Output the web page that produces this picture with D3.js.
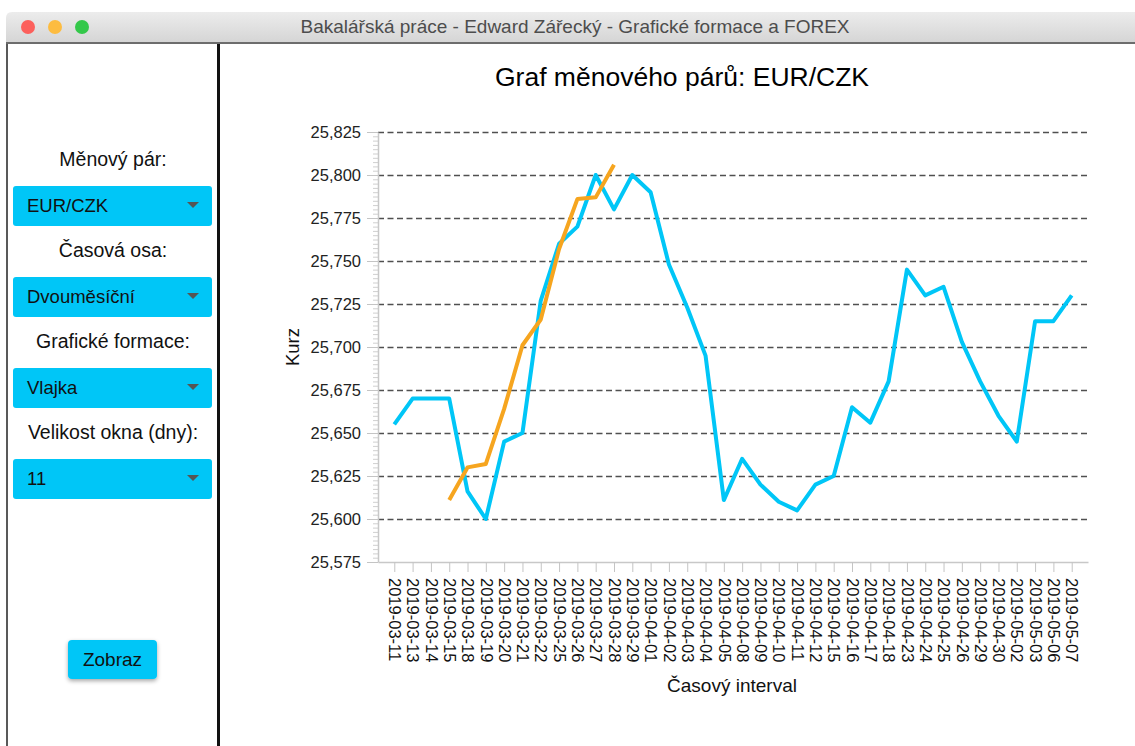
<!DOCTYPE html>
<html>
<head>
<meta charset="utf-8">
<script src="https://cdn.jsdelivr.net/npm/d3@7"></script>
<style>
body { margin: 0; background: #fff; overflow: hidden; }
text { font-family: "Liberation Sans", Arial, sans-serif; }
</style>
</head>
<body>
<svg id="misvg"></svg>
<script>
// data
const dates = ["2019-03-11","2019-03-13","2019-03-14","2019-03-15","2019-03-18","2019-03-19","2019-03-20",
  "2019-03-21","2019-03-22","2019-03-25","2019-03-26","2019-03-27","2019-03-28","2019-03-29",
  "2019-04-01","2019-04-02","2019-04-03","2019-04-04","2019-04-05","2019-04-08","2019-04-09",
  "2019-04-10","2019-04-11","2019-04-12","2019-04-15","2019-04-16","2019-04-17","2019-04-18",
  "2019-04-23","2019-04-24","2019-04-25","2019-04-26","2019-04-29","2019-04-30","2019-05-02",
  "2019-05-03","2019-05-06","2019-05-07"];
const kurz = [25.655, 25.670, 25.670, 25.670, 25.616, 25.600, 25.645, 25.650, 25.727, 25.760,
  25.770, 25.800, 25.780, 25.800, 25.790, 25.748, 25.723, 25.695, 25.611, 25.635,
  25.620, 25.610, 25.605, 25.620, 25.625, 25.665, 25.656, 25.680, 25.745, 25.730,
  25.735, 25.703, 25.680, 25.660, 25.645, 25.715, 25.715, 25.730];
const formaceDates = ["2019-03-15","2019-03-18","2019-03-19","2019-03-20","2019-03-21",
  "2019-03-22","2019-03-25","2019-03-26","2019-03-27","2019-03-28"];
const formace = [25.611, 25.630, 25.632, 25.664, 25.701, 25.716, 25.757, 25.786, 25.787, 25.806];
const yTicks = [25.575, 25.600, 25.625, 25.650, 25.675, 25.700, 25.725, 25.750, 25.775, 25.800, 25.825];
const panelLabels = ["Měnový pár:", "Časová osa:", "Grafické formace:", "Velikost okna (dny):"];
const panelValues = ["EUR/CZK", "Dvouměsíční", "Vlajka", "11"];

const blue = "#00c6f7";
const orange = "#f6a51f";

const svg = d3.select("#misvg")
  .attr("width", 1135)
  .attr("height", 746);

const defs = svg.append("defs");
const grad = defs.append("linearGradient").attr("id", "titlebar").attr("x1", 0).attr("y1", 0).attr("x2", 0).attr("y2", 1);
grad.append("stop").attr("offset", "0%").attr("stop-color", "#ececec");
grad.append("stop").attr("offset", "100%").attr("stop-color", "#d4d4d4");
const shadow = defs.append("filter").attr("id", "shadow").attr("x", "-20%").attr("y", "-20%").attr("width", "140%").attr("height", "160%");
shadow.append("feDropShadow").attr("dx", 0).attr("dy", 2).attr("stdDeviation", 2).attr("flood-color", "#000").attr("flood-opacity", 0.35);

// window title bar
svg.append("path")
  .attr("d", "M6,44 V18 Q6,12 12,12 H1135 V44 Z")
  .attr("fill", "url(#titlebar)");
svg.append("line").attr("x1", 6).attr("x2", 1135).attr("y1", 43).attr("y2", 43)
  .attr("stroke", "#4a4a4a").attr("stroke-width", 1.5);
svg.selectAll(".light")
  .data(["#fc605c", "#fdbc40", "#34c84a"])
  .enter().append("circle")
  .attr("cx", (d, i) => 28 + i * 27)
  .attr("cy", 27)
  .attr("r", 7)
  .attr("fill", d => d);
svg.append("text")
  .attr("x", 575).attr("y", 33)
  .attr("text-anchor", "middle")
  .style("font-size", "19px")
  .attr("fill", "#4d4d4d")
  .text("Bakalářská práce - Edward Zářecký - Grafické formace a FOREX");

// borders
svg.append("line").attr("x1", 7).attr("x2", 7).attr("y1", 44).attr("y2", 746)
  .attr("stroke", "#222").attr("stroke-width", 1.5);
svg.append("line").attr("x1", 218.5).attr("x2", 218.5).attr("y1", 44).attr("y2", 746)
  .attr("stroke", "#111").attr("stroke-width", 3);

// left panel
const panel = svg.append("g");
panel.selectAll(".plabel")
  .data(panelLabels)
  .enter().append("text")
  .attr("x", 113)
  .attr("y", (d, i) => 166 + i * 91)
  .attr("text-anchor", "middle")
  .style("font-size", "19.5px")
  .attr("fill", "#111")
  .text(d => d);

const box = panel.selectAll(".box")
  .data(panelValues)
  .enter().append("g")
  .attr("transform", (d, i) => "translate(13," + (186 + i * 91) + ")");
box.append("rect")
  .attr("width", 199).attr("height", 40).attr("rx", 3)
  .attr("fill", blue);
box.append("text")
  .attr("x", 14).attr("y", 26)
  .style("font-size", "18.5px")
  .attr("fill", "#111")
  .text(d => d);
box.append("path")
  .attr("d", "M174,16 L186,16 L180,22 Z")
  .attr("fill", "#555");

panel.append("rect")
  .attr("x", 68).attr("y", 640).attr("width", 89).attr("height", 39).attr("rx", 4)
  .attr("fill", blue)
  .attr("filter", "url(#shadow)");
panel.append("text")
  .attr("x", 112.5).attr("y", 666)
  .attr("text-anchor", "middle")
  .style("font-size", "19px")
  .attr("fill", "#111")
  .text("Zobraz");

// chart
const margin = { top: 132, left: 378 };
const width = 710;
const height = 430;

const chart = svg.append("g")
  .attr("transform", "translate(" + margin.left + "," + margin.top + ")");

const x = d3.scalePoint()
  .domain(dates)
  .range([0, width])
  .padding(0.89);

const y = d3.scaleLinear()
  .domain([yTicks[0], yTicks[yTicks.length - 1]])
  .range([height, 0]);

const fmt = d3.formatLocale({ decimal: ",", thousands: " ", grouping: [3], currency: ["", ""] }).format(".3f");

// dashed horizontal grid
chart.append("g")
  .call(d3.axisLeft(y).tickValues(yTicks.slice(1)).tickSize(-width).tickFormat(""))
  .call(g => g.select(".domain").remove())
  .selectAll("line")
  .attr("stroke", "#505050")
  .attr("stroke-width", 1.7)
  .attr("stroke-dasharray", "6,3.5");

// minor ticks on y
const minor = d3.range(0, 101).map(i => yTicks[0] + i * 0.0025);
chart.append("g")
  .call(d3.axisLeft(y).tickValues(minor).tickSize(5).tickFormat("").tickSizeOuter(0))
  .call(g => g.select(".domain").remove())
  .selectAll("line")
  .attr("stroke", "#cfcfcf");

const yAxis = chart.append("g")
  .call(d3.axisLeft(y).tickValues(yTicks).tickSize(11).tickPadding(6).tickFormat(fmt).tickSizeOuter(0));
yAxis.select(".domain").attr("stroke", "#c8c8c8").attr("stroke-width", 1.5);
yAxis.selectAll(".tick line").attr("stroke", "#c4c4c4");
yAxis.selectAll("text")
  .style("font-size", "16.5px")
  .style("font-family", "'Liberation Sans', Arial, sans-serif")
  .attr("fill", "#222");

const xAxis = chart.append("g")
  .attr("transform", "translate(0," + height + ")")
  .call(d3.axisBottom(x).tickSize(10).tickSizeOuter(0));
xAxis.select(".domain").attr("stroke", "#c8c8c8").attr("stroke-width", 1.5);
xAxis.selectAll(".tick line").attr("stroke", "#c4c4c4");
xAxis.selectAll("text")
  .attr("transform", "rotate(90)")
  .attr("x", 16)
  .attr("y", 0)
  .attr("dy", ".35em")
  .style("text-anchor", "start")
  .style("font-size", "16.5px")
  .style("font-family", "'Liberation Sans', Arial, sans-serif")
  .attr("fill", "#111");

const line = d3.line()
  .x(d => x(d[0]))
  .y(d => y(d[1]));

chart.append("path")
  .datum(dates.map((d, i) => [d, kurz[i]]))
  .attr("fill", "none")
  .attr("stroke", blue)
  .attr("stroke-width", 4)
  .attr("stroke-linejoin", "round")
  .attr("d", line);

chart.append("path")
  .datum(formaceDates.map((d, i) => [d, formace[i]]))
  .attr("fill", "none")
  .attr("stroke", orange)
  .attr("stroke-width", 4)
  .attr("stroke-linejoin", "round")
  .attr("d", line);

// titles
svg.append("text")
  .attr("x", 682).attr("y", 86)
  .attr("text-anchor", "middle")
  .style("font-size", "26.5px")
  .attr("fill", "#000")
  .text("Graf měnového párů: EUR/CZK");

svg.append("text")
  .attr("transform", "translate(299,347) rotate(-90)")
  .attr("text-anchor", "middle")
  .style("font-size", "18.5px")
  .attr("fill", "#111")
  .text("Kurz");

svg.append("text")
  .attr("x", 732).attr("y", 692)
  .attr("text-anchor", "middle")
  .style("font-size", "19px")
  .attr("fill", "#111")
  .text("Časový interval");
</script>
</body>
</html>
